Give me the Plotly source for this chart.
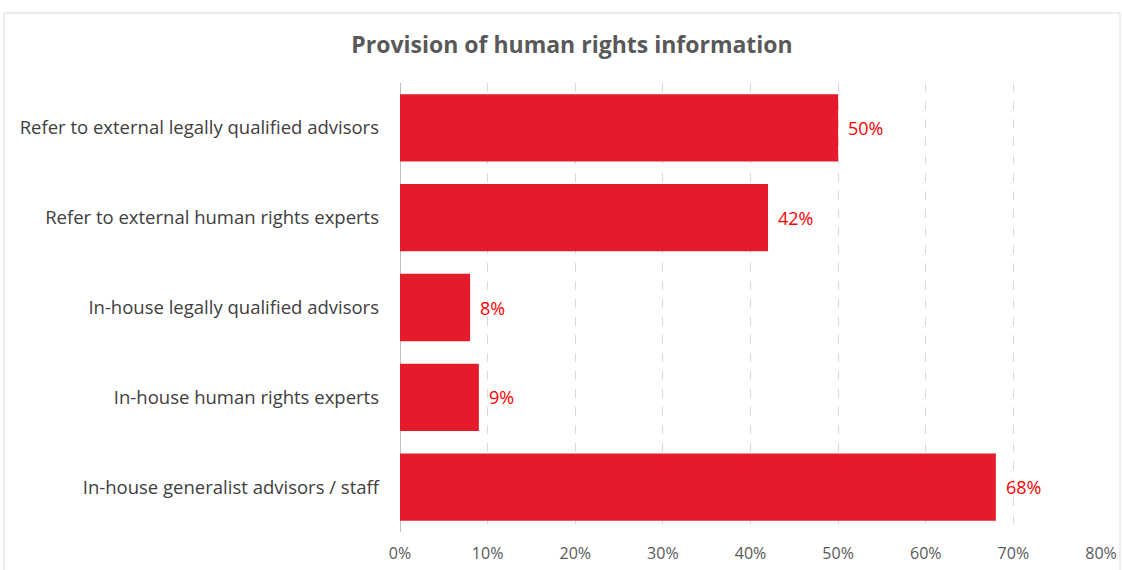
import plotly.graph_objects as go

categories = [
    "In-house generalist advisors / staff",
    "In-house human rights experts",
    "In-house legally qualified advisors",
    "Refer to external human rights experts",
    "Refer to external legally qualified advisors",
]
values = [0.68, 0.09, 0.08, 0.42, 0.50]
value_labels = ["68%", "9%", "8%", "42%", "50%"]
tick_values = [0, 0.1, 0.2, 0.3, 0.4, 0.5, 0.6, 0.7, 0.8]
tick_labels = ["0%", "10%", "20%", "30%", "40%", "50%", "60%", "70%", "80%"]

W, H = 1122, 570
L, R, T, B = 400, 21, 83, 38
pw, ph = W - L - R, H - T - B

fig = go.Figure()
fig.add_trace(go.Bar(
    y=categories,
    x=values,
    orientation="h",
    marker=dict(color="#E31B2B", line=dict(width=0)),
))

# value labels just right of each bar
for cat, val, lab in zip(categories, values, value_labels):
    fig.add_annotation(
        x=val, y=cat, text=lab, showarrow=False,
        xanchor="left", xshift=8,
        font=dict(color="#FF0000", size=18, family="Open Sans"),
    )

# outer chart frame
fig.add_shape(
    type="rect", xref="paper", yref="paper",
    x0=(4 - L) / pw, x1=(1120 - L) / pw,
    y0=(H - T - 600) / ph, y1=1 + (T - 13) / ph,
    line=dict(color="#D9D9D9", width=1), layer="below",
)

fig.update_layout(
    width=W, height=H,
    margin=dict(l=L, r=R, t=T, b=B),
    paper_bgcolor="white", plot_bgcolor="white",
    bargap=0.25,
    showlegend=False,
    font=dict(family="Open Sans", color="#404040"),
    title=dict(
        text="<b>Provision of human rights information</b>",
        x=572 / W, xanchor="center", y=1 - 45 / H, yanchor="middle",
        font=dict(size=23, color="#595959", family="Open Sans"),
    ),
)
fig.update_xaxes(
    range=[0, 0.8], tickvals=tick_values, ticktext=tick_labels,
    showgrid=True, gridcolor="#D9D9D9", griddash="dash", gridwidth=1,
    zeroline=True, zerolinecolor="#BFBFBF", zerolinewidth=1,
    tickfont=dict(size=16, color="#595959"),
    ticks="", showline=False,
    ticklabelstandoff=10, automargin=False,
)
fig.update_yaxes(
    tickfont=dict(size=18.5, color="#404040"),
    ticks="", showline=False, showgrid=False,
    ticklabelstandoff=20, automargin=False,
)

fig.write_html(
    "out.html",
    config={"displayModeBar": False},
    post_script="document.body.style.margin='0';",
)
